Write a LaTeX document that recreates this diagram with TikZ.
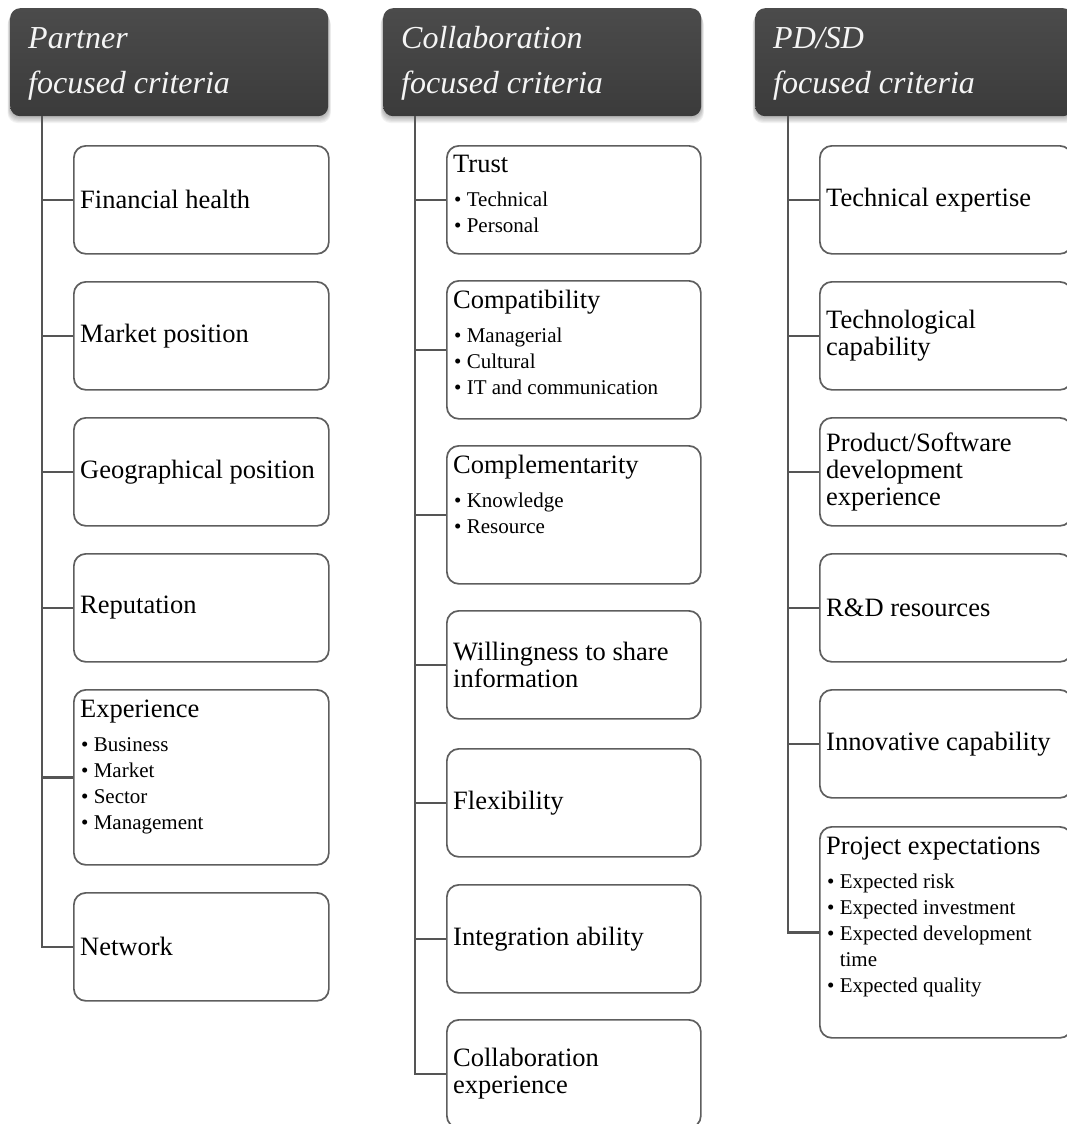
\documentclass[tikz,border=0pt]{standalone}
\usepackage{fontspec}
\setmainfont{Liberation Serif}
\pgfdeclarelayer{background}
\pgfsetlayers{background,main}
\definecolor{hdrtop}{HTML}{4B4B4B}
\definecolor{hdrbot}{HTML}{3B3B3B}
\definecolor{boxline}{HTML}{5E5E5E}
\definecolor{spine}{HTML}{555555}
\newcommand\hdrtxtfont{\itshape\fontsize{32}{45}\selectfont}
\newcommand\itemtxtfont{\fontsize{26.5}{27}\selectfont}
\newcommand\bulltxtfont{\fontsize{21}{26}\selectfont}
\newcommand\bl{\textbullet\ }
\tikzset{
  hdr/.style={draw=none, rounded corners=10pt, top color=hdrtop, bottom color=hdrbot,
    minimum width=318pt, minimum height=108pt, anchor=north west, inner sep=0pt},
  % multi-line nodes sit on the baseline of their last line
  hdrtxt/.style={anchor=base west, align=left, font=\hdrtxtfont, text=white!96!black,
    inner sep=0pt, xshift=18pt, yshift=-85pt},
  box/.style={draw=boxline, line width=1.7pt, rounded corners=12pt, fill=white,
    anchor=north west, inner sep=0pt, minimum height=108pt},
  pbox/.style={box, minimum width=255pt},
  cbox/.style={box, minimum width=254pt},
  dbox/.style={box, minimum width=252pt},
  lbl/.style={anchor=west, align=left, font=\itemtxtfont, inner sep=0pt, xshift=7pt},
  ttl/.style={anchor=base west, font=\itemtxtfont, inner sep=0pt, xshift=7pt, yshift=-28.5pt},
  bul/.style={anchor=base west, align=left, font=\bulltxtfont, inner sep=0pt, xshift=8pt,
    yshift=-62.5pt-#1*26pt},
  conn/.style={draw=spine, line width=2.3pt}
}
\begin{document}
\begin{tikzpicture}[x=1pt,y=-1pt]
\useasboundingbox (0,0) rectangle (1067,1124);
\clip (0,0) rectangle (1067,1124);

% column headers
\node[hdr] (hp) at (10,8) {};
\node[hdr] (hc) at (383,8) {};
\node[hdr] (hd) at (755,8) {};
\node[hdrtxt] (hpt) at (hp.north west) {Partner\\focused criteria};
\node[hdrtxt] (hct) at (hc.north west) {Collaboration\\focused criteria};
\node[hdrtxt] (hdt) at (hd.north west) {PD/SD\\focused criteria};

% soft shadow under the headers
\begin{pgfonlayer}{background}
\foreach \h in {hp,hc,hd}{
  \foreach \s in {1,...,6}{
    \fill[black, opacity=0.05, rounded corners=10pt]
      ([xshift=-0.4*\s pt, yshift=-1.1*\s pt]\h.north west) rectangle
      ([xshift=0.4*\s pt, yshift=-1.1*\s pt]\h.south east);
  }
}
\end{pgfonlayer}

% spine start points
\coordinate (ps) at (42,116);
\coordinate (cs) at (415,116);
\coordinate (ds) at (788,116);

% Partner focused criteria
\node[pbox] (p1) at (73,145) {};
\node[pbox] (p2) at (73,281) {};
\node[pbox] (p3) at (73,417) {};
\node[pbox] (p4) at (73,553) {};
\node[pbox, minimum height=175pt] (p5) at (73,689) {};
\node[pbox] (p6) at (73,892) {};
\node[lbl] at (p1.west) {Financial health};
\node[lbl] at (p2.west) {Market position};
\node[lbl] at (p3.west) {Geographical position};
\node[lbl] at (p4.west) {Reputation};
\node[ttl] at (p5.north west) {Experience};
\node[bul=3] at (p5.north west) {\bl Business\\\bl Market\\\bl Sector\\\bl Management};
\node[lbl] at (p6.west) {Network};

% Collaboration focused criteria
\node[cbox] (c1) at (446,145) {};
\node[cbox, minimum height=138pt] (c2) at (446,280) {};
\node[cbox, minimum height=138pt] (c3) at (446,445) {};
\node[cbox] (c4) at (446,610) {};
\node[cbox] (c5) at (446,748) {};
\node[cbox] (c6) at (446,884) {};
\node[cbox] (c7) at (446,1019) {};
\node[ttl, yshift=1.5pt] at (c1.north west) {Trust};
\node[bul=1, yshift=1.5pt] at (c1.north west) {\bl Technical\\\bl Personal};
\node[ttl] at (c2.north west) {Compatibility};
\node[bul=2] at (c2.north west) {\bl Managerial\\\bl Cultural\\\bl IT and communication};
\node[ttl] at (c3.north west) {Complementarity};
\node[bul=1] at (c3.north west) {\bl Knowledge\\\bl Resource};
\node[lbl] at (c4.west) {Willingness to share\\information};
\node[lbl] at (c5.west) {Flexibility};
\node[lbl] at (c6.west) {Integration ability};
\node[lbl] at (c7.west) {Collaboration\\experience};

% PD/SD focused criteria
\node[dbox] (d1) at (819,145) {};
\node[dbox] (d2) at (819,281) {};
\node[dbox] (d3) at (819,417) {};
\node[dbox] (d4) at (819,553) {};
\node[dbox] (d5) at (819,689) {};
\node[dbox, minimum height=211pt] (d6) at (819,826) {};
\node[lbl] at (d1.west) {Technical expertise};
\node[lbl] at (d2.west) {Technological\\capability};
\node[lbl] at (d3.west) {Product/Software\\development\\experience};
\node[lbl] at (d4.west) {R\&D resources};
\node[lbl] at (d5.west) {Innovative capability};
\node[ttl] at (d6.north west) {Project expectations};
\node[bul=4] at (d6.north west) {\bl Expected risk\\\bl Expected investment\\\bl Expected development\\\phantom{\bl}time\\\bl Expected quality};

% connectors: spine and branches
\draw[conn] (ps) |- (p6.west);
\foreach \b in {p1,p2,p3,p4,p5} \draw[conn] (\b.west -| ps) -- (\b.west);
\draw[conn] (cs) |- (c7.west);
\foreach \b in {c1,c2,c3,c4,c5,c6} \draw[conn] (\b.west -| cs) -- (\b.west);
\draw[conn] (ds) |- (d6.west);
\foreach \b in {d1,d2,d3,d4,d5} \draw[conn] (\b.west -| ds) -- (\b.west);
\end{tikzpicture}
\end{document}
